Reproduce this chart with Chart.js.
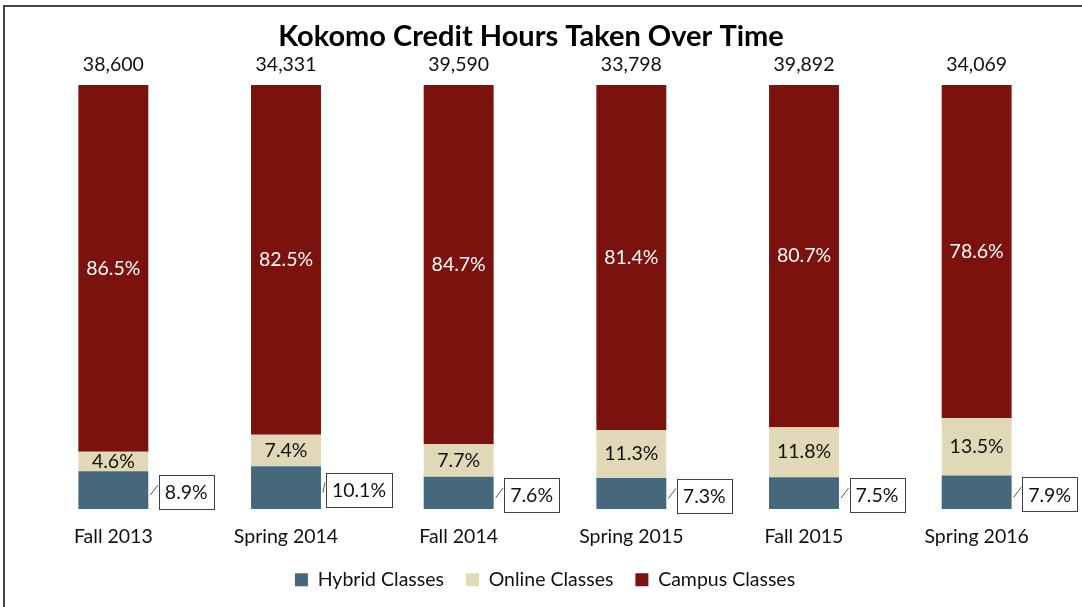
<!DOCTYPE html>
<html>
<head>
<meta charset="utf-8">
<script src="https://cdn.jsdelivr.net/npm/chart.js@4/dist/chart.umd.min.js"></script>
<style>
  html, body { margin: 0; padding: 0; background: #fff; overflow: hidden; }
  #wrap { position: absolute; left: 0; top: 0; width: 1082px; height: 607px; }
  #frame {
    position: absolute; left: 3px; top: 5px; width: 1200px; height: 700px;
    border-top: 2px solid #444; border-left: 2px solid #444; pointer-events: none;
  }
</style>
</head>
<body>
<div id="wrap">
  <canvas id="chart" width="1082" height="607"></canvas>
  <div id="frame"></div>
</div>
<script>
// Chart values
const terms = ['Fall 2013', 'Spring 2014', 'Fall 2014', 'Spring 2015', 'Fall 2015', 'Spring 2016'];
const hybridPct = [8.9, 10.1, 7.6, 7.3, 7.5, 7.9];
const onlinePct = [4.6, 7.4, 7.7, 11.3, 11.8, 13.5];
const campusPct = [86.5, 82.5, 84.7, 81.4, 80.7, 78.6];
const totalHours = [38600, 34331, 39590, 33798, 39892, 34069];

const FONT = 'Lato, "Open Sans", sans-serif';
const LABEL_SIZE = 19.5;

// Draws the percent labels, the boxed hybrid labels and the totals above each bar
const labelPlugin = {
    id: 'barLabels',
    afterLayout(chart) {
        // title sits a little left of the plot centre in the original
        chart.titleBlock.left -= 28;
    },
    afterDatasetsDraw(chart) {
        const ctx = chart.ctx;
        const hybridMeta = chart.getDatasetMeta(0);
        const onlineMeta = chart.getDatasetMeta(1);
        const campusMeta = chart.getDatasetMeta(2);
        ctx.save();
        ctx.font = LABEL_SIZE + 'px ' + FONT;
        ctx.textAlign = 'center';
        ctx.textBaseline = 'middle';

        terms.forEach((term, i) => {
            const campusBar = campusMeta.data[i];
            const onlineBar = onlineMeta.data[i];
            const hybridBar = hybridMeta.data[i];

            // campus share, white text
            ctx.fillStyle = '#ffffff';
            ctx.fillText(campusPct[i].toFixed(1) + '%', campusBar.x, (campusBar.y + campusBar.base) / 2);

            // online share, dark text
            ctx.fillStyle = '#111111';
            ctx.fillText(onlinePct[i].toFixed(1) + '%', onlineBar.x, (onlineBar.y + onlineBar.base) / 2);

            // total hours above the bar
            ctx.fillText(totalHours[i].toLocaleString('en-US'), campusBar.x, campusBar.y - 20);

            // hybrid share in a box to the right of the bar
            const text = hybridPct[i].toFixed(1) + '%';
            const barRight = hybridBar.x + hybridBar.width / 2;
            const boxW = ctx.measureText(text).width + 12;
            const boxH = 34;
            const cx = barRight + 38;
            const cy = (hybridBar.y + hybridBar.base) / 2 + 2;
            const left = cx - boxW / 2;
            const top = cy - boxH / 2;

            ctx.strokeStyle = '#555555';
            ctx.lineWidth = 1;
            ctx.beginPath();
            ctx.moveTo(barRight + 2, cy + 3);
            ctx.lineTo(left - 1, cy - 7);
            ctx.stroke();

            ctx.fillStyle = '#ffffff';
            ctx.fillRect(left, top, boxW, boxH);
            ctx.strokeStyle = '#404040';
            ctx.strokeRect(Math.round(left) + 0.5, Math.round(top) + 0.5, Math.round(boxW), boxH);
            ctx.fillStyle = '#111111';
            ctx.fillText(text, cx, cy + 1);
        });
        ctx.restore();
    }
};

const ctx = document.getElementById('chart').getContext('2d');

new Chart(ctx, {
    type: 'bar',
    data: {
        labels: terms,
        datasets: [
            {
                label: 'Hybrid Classes',
                data: hybridPct,
                backgroundColor: '#46687c'
            },
            {
                label: 'Online Classes',
                data: onlinePct,
                backgroundColor: '#e0d8b7'
            },
            {
                label: 'Campus Classes',
                data: campusPct,
                backgroundColor: '#7b120e'
            }
        ]
    },
    options: {
        responsive: false,
        animation: false,
        devicePixelRatio: 1,
        layout: {
            padding: { left: 27, right: 19, top: 0, bottom: 7.5 }
        },
        datasets: {
            bar: {
                categoryPercentage: 1,
                barPercentage: 0.405,
                borderWidth: 0
            }
        },
        scales: {
            x: {
                stacked: true,
                grid: { display: false, drawTicks: false },
                border: { display: false },
                ticks: {
                    color: '#111111',
                    padding: 16,
                    font: { family: FONT, size: LABEL_SIZE }
                },
                afterFit(scale) {
                    scale.height = 39;
                }
            },
            y: {
                stacked: true,
                display: false,
                min: 0,
                max: 100
            }
        },
        plugins: {
            title: {
                display: true,
                text: 'Kokomo Credit Hours Taken Over Time',
                color: '#000000',
                font: { family: FONT, size: 29, weight: 'bold' },
                padding: { top: 19.6, bottom: 30.6 }
            },
            legend: {
                position: 'bottom',
                labels: {
                    color: '#111111',
                    boxWidth: 13,
                    boxHeight: 13,
                    padding: 22,
                    font: { family: FONT, size: LABEL_SIZE }
                }
            },
            tooltip: { enabled: false }
        }
    },
    plugins: [labelPlugin]
});
</script>
</body>
</html>
